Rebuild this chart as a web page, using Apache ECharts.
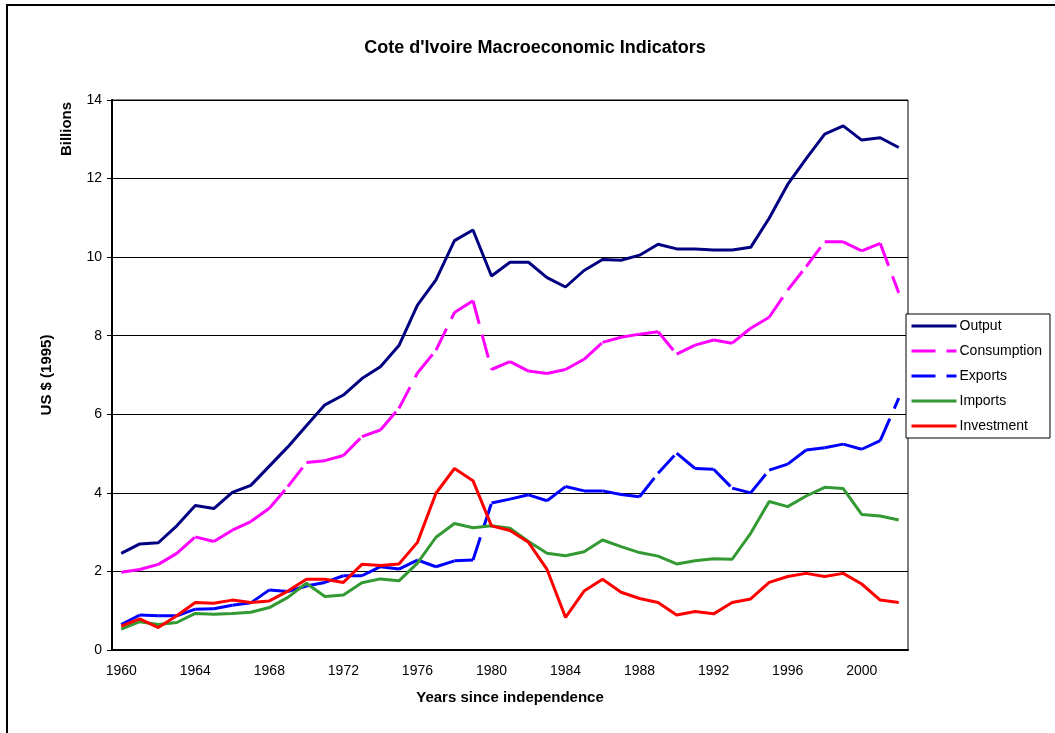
<!DOCTYPE html>
<html>
<head>
<meta charset="utf-8">
<title>Cote d'Ivoire Macroeconomic Indicators</title>
<script src="https://cdn.jsdelivr.net/npm/echarts@6/dist/echarts.min.js"></script>
<style>
html, body { margin: 0; padding: 0; background: #fff; }
#chart { width: 1055px; height: 733px; }
</style>
</head>
<body>
<div id="chart"></div>
<script>
let years = ['1960', '1961', '1962', '1963', '1964', '1965', '1966', '1967', '1968', '1969',
	'1970', '1971', '1972', '1973', '1974', '1975', '1976', '1977', '1978', '1979',
	'1980', '1981', '1982', '1983', '1984', '1985', '1986', '1987', '1988', '1989',
	'1990', '1991', '1992', '1993', '1994', '1995', '1996', '1997', '1998', '1999',
	'2000', '2001', '2002'];

// billions of 1995 US $
let output = [2.46, 2.70, 2.73, 3.16, 3.68, 3.60, 4.01, 4.19, 4.68, 5.17,
	5.71, 6.24, 6.49, 6.91, 7.21, 7.75, 8.78, 9.42, 10.42, 10.69,
	9.52, 9.87, 9.87, 9.48, 9.24, 9.66, 9.94, 9.92, 10.05, 10.33,
	10.21, 10.21, 10.18, 10.18, 10.25, 10.99, 11.85, 12.51, 13.13, 13.34,
	12.98, 13.04, 12.79];
let consumption = [1.98, 2.05, 2.18, 2.46, 2.88, 2.76, 3.05, 3.27, 3.61, 4.16,
	4.77, 4.82, 4.95, 5.43, 5.60, 6.15, 7.05, 7.63, 8.59, 8.89,
	7.14, 7.34, 7.10, 7.04, 7.14, 7.40, 7.83, 7.96, 8.04, 8.10,
	7.53, 7.76, 7.89, 7.81, 8.19, 8.47, 9.16, 9.76, 10.39, 10.39,
	10.16, 10.35, 9.09];
let exports = [0.65, 0.89, 0.87, 0.87, 1.04, 1.05, 1.14, 1.20, 1.53, 1.49,
	1.63, 1.72, 1.89, 1.89, 2.12, 2.06, 2.29, 2.12, 2.27, 2.29,
	3.74, 3.84, 3.95, 3.80, 4.16, 4.05, 4.05, 3.96, 3.90, 4.50,
	5.01, 4.62, 4.60, 4.12, 4.00, 4.58, 4.73, 5.09, 5.15, 5.24,
	5.11, 5.33, 6.41];
let imports = [0.53, 0.72, 0.65, 0.70, 0.93, 0.91, 0.93, 0.96, 1.08, 1.34,
	1.70, 1.36, 1.40, 1.71, 1.81, 1.76, 2.21, 2.87, 3.22, 3.11,
	3.16, 3.10, 2.76, 2.46, 2.40, 2.50, 2.80, 2.63, 2.48, 2.39,
	2.19, 2.27, 2.32, 2.31, 2.97, 3.78, 3.65, 3.92, 4.14, 4.11,
	3.45, 3.41, 3.31];
let investment = [0.61, 0.79, 0.57, 0.87, 1.21, 1.19, 1.27, 1.21, 1.25, 1.50,
	1.80, 1.80, 1.72, 2.18, 2.15, 2.19, 2.74, 3.99, 4.62, 4.31,
	3.16, 3.04, 2.74, 2.05, 0.83, 1.50, 1.80, 1.47, 1.31, 1.21,
	0.89, 0.98, 0.92, 1.21, 1.30, 1.72, 1.87, 1.95, 1.87, 1.95,
	1.68, 1.27, 1.21];

let yTicks = [0, 2, 4, 6, 8, 10, 12, 14];
let seriesNames = ['Output', 'Consumption', 'Exports', 'Imports', 'Investment'];

let font = 'Liberation Sans, Arial, sans-serif';

function solidLine(name, data, color) {
	return {
		name: name,
		type: 'line',
		data: data,
		symbol: 'none',
		lineStyle: { color: color, width: 3 },
		// opacity 0 hides the dot legend draws for lines without symbols
		itemStyle: { color: color, opacity: 0 }
	};
}

// excel restarts the dash pattern at every point, so each segment is its own line
function dashedLine(name, data, color) {
	let list = [];
	for (let i = 0; i < data.length - 1; i++) {
		let part = [];
		for (let j = 0; j < data.length; j++) {
			part.push(j == i || j == i + 1 ? data[j] : null);
		}
		list.push({
			name: name,
			type: 'line',
			data: part,
			symbol: 'none',
			silent: true,
			lineStyle: { color: color, width: 3, type: [24, 11] },
			itemStyle: { color: color, opacity: 0 }
		});
	}
	return list;
}

let series = [];
series.push(solidLine('Output', output, '#000080'));
series = series.concat(dashedLine('Consumption', consumption, '#ff00ff'));
series = series.concat(dashedLine('Exports', exports, '#0000ff'));
series.push(solidLine('Imports', imports, '#339933'));
series.push(solidLine('Investment', investment, '#ff0000'));

let myChart = echarts.init(document.getElementById('chart'));
let option = {
	animation: false,
	backgroundColor: '#fff',
	title: {
		text: "Cote d'Ivoire Macroeconomic Indicators",
		left: 530,
		top: 34,
		textAlign: 'center',
		textStyle: { fontFamily: font, fontSize: 18, fontWeight: 'bold', color: '#000' }
	},
	legend: {
		data: seriesNames,
		orient: 'vertical',
		left: 906,
		top: 314,
		padding: [5, 8, 5, 4],
		itemWidth: 45,
		itemHeight: 14,
		itemGap: 11,
		borderColor: '#000',
		borderWidth: 1,
		backgroundColor: '#fff',
		itemStyle: { opacity: 0 },
		lineStyle: { width: 3 },
		textStyle: { fontFamily: font, fontSize: 14, color: '#000', padding: [0, 0, 0, -2] }
	},
	grid: {
		left: 112,
		right: 147,
		top: 100,
		bottom: 83,
		show: true,
		borderColor: '#000',
		borderWidth: 1
	},
	xAxis: {
		type: 'category',
		data: years,
		boundaryGap: true,
		name: 'Years since independence',
		nameLocation: 'middle',
		nameGap: 40,
		nameTextStyle: { fontFamily: font, fontSize: 15, fontWeight: 'bold', color: '#000' },
		axisLine: { lineStyle: { color: '#000', width: 2 } },
		axisTick: { interval: 0, length: 5, lineStyle: { color: '#000' } },
		axisLabel: { interval: 3, margin: 14, fontFamily: font, fontSize: 14, color: '#000' },
		splitLine: { show: false }
	},
	yAxis: {
		type: 'value',
		min: yTicks[0],
		max: yTicks[yTicks.length - 1],
		interval: 2,
		name: 'US $ (1995)',
		nameLocation: 'middle',
		nameGap: 58,
		nameTextStyle: { fontFamily: font, fontSize: 15, fontWeight: 'bold', color: '#000' },
		axisLine: { show: true, lineStyle: { color: '#000', width: 2 } },
		axisTick: { show: true, length: 5, lineStyle: { color: '#000' } },
		axisLabel: { margin: 10, fontFamily: font, fontSize: 14, color: '#000' },
		splitLine: { show: true, lineStyle: { color: '#000', width: 1 } }
	},
	graphic: [
		{
			type: 'rect',
			silent: true,
			shape: { x: 7, y: 5, width: 1200, height: 900 },
			style: { fill: 'none', stroke: '#000', lineWidth: 2 }
		},
		{
			type: 'text',
			x: 67,
			y: 129,
			rotation: Math.PI / 2,
			style: {
				text: 'Billions',
				font: 'bold 15px ' + font,
				align: 'center',
				verticalAlign: 'middle',
				fill: '#000'
			}
		}
	],
	series: series
};
myChart.setOption(option);
</script>
</body>
</html>
